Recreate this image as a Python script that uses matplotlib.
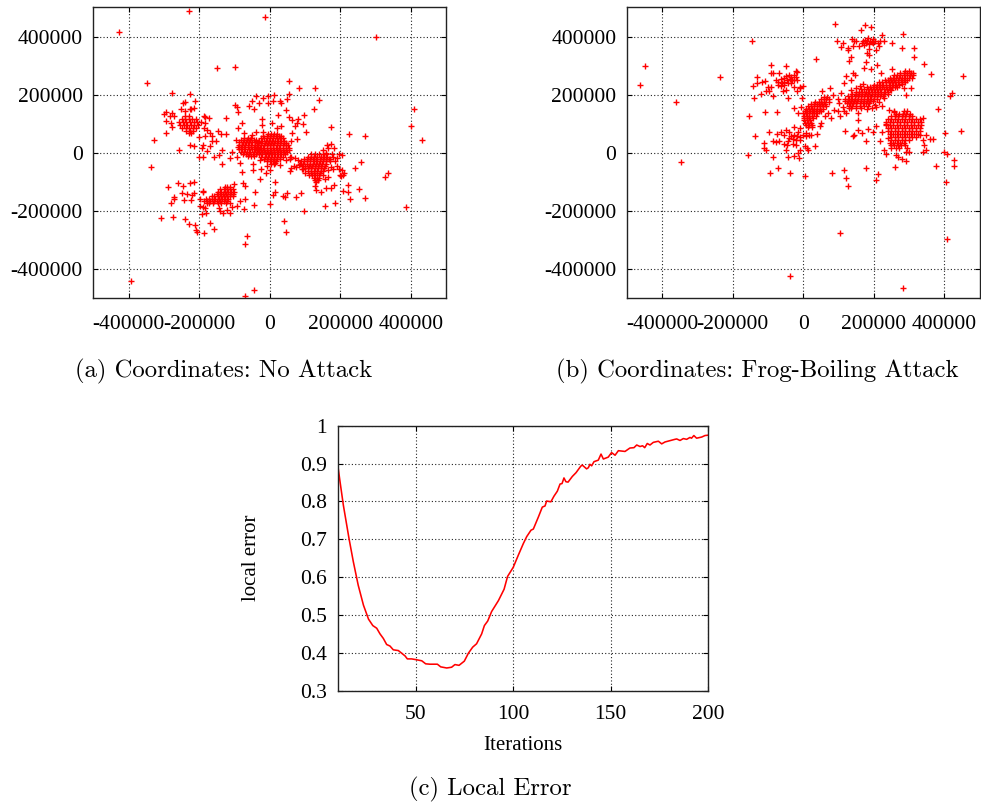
import matplotlib
matplotlib.use("Agg")
import matplotlib.pyplot as plt

W, H = 981, 805
plt.rcParams['font.family'] = ['Liberation Serif', 'DejaVu Serif']
plt.rcParams['axes.unicode_minus'] = False

# All scatter values are in thousands.
SCALE = 1000
coord_ticks = [-400000, -200000, 0, 200000, 400000]
coord_labels = ['-400000', '-200000', '0', '200000', '400000']
iter_ticks = [50, 100, 150, 200]
iter_labels = ['50', '100', '150', '200']
err_ticks = [0.3, 0.4, 0.5, 0.6, 0.7, 0.8, 0.9, 1.0]
err_labels = ['0.3', '0.4', '0.5', '0.6', '0.7', '0.8', '0.9', '1']

# Panel (a): saturated blobs as rows (y, [x...])
a_core = [(66,[-6,3,12,21]),(58,[-18,-9,0,9,18,27,33]),(50,[-26,-17,-8,1,10,19,28,37]),
 (42,[-30,-21,-12,-3,6,15,24,33,41]),(34,[-33,-24,-15,-6,3,12,21,30,39,46]),
 (26,[-35,-26,-17,-8,1,10,19,28,37,46,52]),(18,[-36,-27,-18,-9,0,9,18,27,36,45,53]),
 (10,[-34,-25,-16,-7,2,11,20,29,38,47,54]),(2,[-32,-23,-14,-5,4,13,22,31,40,49]),
 (-6,[-30,-21,-12,-3,6,15,24,33,42]),(-14,[-24,-15,-6,3,12,21,30,38]),
 (-22,[-16,-7,2,11,20,28]),(-30,[-8,1,10,18]),(-38,[3,12])]
a_core2 = [(52,[-72,-63,-52]),(44,[-82,-73,-64,-55,-46,-38]),(36,[-86,-77,-68,-59,-50,-41,-33]),
 (28,[-88,-79,-70,-61,-52,-43,-34]),(20,[-90,-81,-72,-63,-54,-45,-36]),(12,[-87,-78,-69,-60,-51,-42,-33]),
 (4,[-82,-73,-64,-55,-46,-37]),(-4,[-76,-67,-58,-49,-40]),(-12,[-62,-53,-44])]
a_right = [(-6,[118,128,140,150,158]),(-14,[108,117,126,135,144,153,162]),
 (-22,[96,105,114,123,132,141,150,159,168]),(-30,[88,97,106,115,124,133,142,151,160,170]),
 (-38,[86,95,104,113,122,131,140,149,158]),(-46,[92,101,110,119,128,137,146,155]),
 (-54,[100,109,118,127,136,145,154]),(-62,[108,117,126,135,144,152]),(-70,[116,125,134,143]),
 (-78,[120,129,138]),(-86,[124,133,140]),(-94,[128,136])]
a_lower = [(-118,[-128,-120,-112]),(-126,[-140,-131,-122,-113,-104]),(-134,[-146,-137,-128,-119,-110,-102]),
 (-142,[-150,-141,-132,-123,-114,-105]),(-150,[-165,-157,-148,-139,-130,-121,-112]),
 (-158,[-180,-172,-163,-154,-145,-136,-127,-118]),(-166,[-186,-177,-168,-159,-150,-141,-130,-120]),
 (-174,[-172,-160,-148,-138,-125,-112])]
a_upper = [(125,[-240,-228]),(115,[-250,-240,-230,-220,-208]),(105,[-256,-246,-236,-226,-216,-206,-196]),
 (95,[-254,-244,-234,-224,-214,-204]),(85,[-248,-238,-228,-218,-210]),(75,[-236,-226,-218]),(68,[-228,-222])]

# Panel (a): individually read points
a_outliers = [(-426,416),(-228,488),(-13,468),(300,399),(-149,293),(-98,296),(-348,240),(-276,207),(-225,203),
 (55,248),(84,222),(127,223),(139,182),(125,149),(97,131),(173,87),(225,66),(269,58),(408,152),(401,91),(431,44),
 (-327,45),(-337,-48),(-256,8),(-392,-440),(-71,-492),(-45,-474),(387,-187),(325,-83),(335,-71),(259,-31),(241,-54),
 (-65,-286),(-69,-313),(39,-235),(46,-272),(96,-202),(156,-185),(186,-174),(1,-178),(270,-157),(226,-159),(252,-124),
 (222,-110),(221,-136),(208,-131),(172,-121),(183,-112),(201,-81),(207,-78),(204,-7),(196,-3),(181,16),(172,30),(161,27),
 (-309,-225),(-274,-220),(-240,-229),(-230,-245),(-212,-249),(-209,-265),(-206,-272),(-187,-277),(-158,-262),(-168,-241)]
a_right_halo = [(80,-25),(83,-42),(92,-55),(100,-70),(110,-75),(150,-75),(165,-60),(172,-50),(180,-55),(190,-45),
 (195,-55),(170,-20),(178,-15),(185,-28),(160,-2),(175,-5),(150,8),(165,15),(190,-18),(205,-60),(210,-70),(200,-75),
 (130,-102),(128,-115),(130,-128),(145,-135),(160,-120),(95,-55),(155,-90),(165,-85),(75,-50),(70,-18),(57,-20),(60,-52)]
a_lower_halo = [(-288,-118),(-260,-104),(-246,-116),(-225,-105),(-216,-102),(-250,-140),(-235,-142),(-271,-152),(-271,-158),
 (-279,-173),(-243,-163),(-224,-163),(-220,-144),(-214,-139),(-198,-184),(-189,-187),(-184,-190),(-191,-210),(-182,-207),
 (-143,-189),(-141,-202),(-132,-207),(-121,-198),(-113,-207),(-108,-187),(-94,-184),(-102,-107),(-75,-105),(-70,-113),
 (-41,-135),(-71,-158),(-84,-167),(-74,-194),(-45,-181),(16,-102),(15,-136),(8,-147),(36,-150),(42,-154),(50,-140),(73,-154),
 (89,-138),(-29,-91),(-189,-133),(-177,-173),(-104,-150),(-198,-159),(-189,-136)]
a_upper_halo = [(-278,136),(-300,134),(-293,140),(-283,125),(-271,128),(-294,108),(-280,102),(-276,88),(-293,68),(-245,171),
 (-239,174),(-212,179),(-252,151),(-241,142),(-226,151),(-214,154),(-222,152),(-187,127),(-184,123),(-172,121),(-184,104),
 (-186,86),(-179,77),(-146,74),(-139,65),(-125,64),(-170,68),(-163,58),(-184,56),(-200,55),(-151,40),(-165,39),(-189,26),
 (-191,16),(-170,22),(-179,5),(-226,25),(-214,24),(-200,-13),(-189,-16),(-158,-14),(-135,10),(-143,-7),(-135,-39),(-113,-18),
 (-108,3),(-124,120)]
a_core_halo = [(-39,197),(-50,179),(-58,162),(-44,151),(-32,171),(-19,187),(-4,194),(13,199),(55,202),(49,185),(9,178),(-5,171),
 (28,179),(33,171),(47,146),(22,131),(54,123),(63,113),(79,116),(94,100),(71,91),(77,104),(102,70),(62,68),(77,49),(61,39),
 (33,91),(19,85),(5,102),(-22,116),(-22,96),(-78,101),(-90,85),(-98,163),(-92,158),(-89,140),(-74,68),(-95,45),(-50,62),
 (-38,73),(-19,70),(-94,-13),(-85,-36),(-80,-66),(-49,-38),(-49,-61),(-24,-56),(-12,-70),(0,-58),(14,-36),(57,-16),(61,-15),
 (69,-47),(58,-64),(47,-24),(-9,-47),(-28,-24),(28,-41)]

# Panel (b): saturated blobs as rows (y, [x...])
b_band = [(282,[290,300]),(274,[275,285,295,305,312]),(266,[258,267,276,285,294,303,312]),
 (258,[245,254,263,272,281,290,299,308]),(250,[232,241,250,259,268,277,286,295]),
 (242,[216,225,234,243,252,261,270,279,288]),(234,[200,209,218,227,236,245,254,263,272]),
 (226,[180,189,198,207,216,225,234,243,252,261]),(218,[165,174,183,192,201,210,219,228,237,246]),
 (210,[150,159,168,177,186,195,204,213,222,231,240]),(202,[140,149,158,167,176,185,194,203,212,221,230]),
 (194,[128,137,146,155,164,173,182,191,200,209,218,226]),(186,[120,129,138,147,156,165,174,183,192,201,210]),
 (178,[118,127,136,145,154,163,172,181,190,199]),(170,[124,133,142,151,160,169,178,187]),
 (162,[130,140,150,162,172,185]),(154,[135,150,165])]
b_blob = [(145,[285,295]),(135,[262,272,282,292,302]),(125,[250,260,270,280,290,300,310]),
 (115,[240,250,260,270,280,290,300,310,320,330]),(105,[235,245,255,265,275,285,295,305,315,325,335]),
 (95,[235,245,255,265,275,285,295,305,315,325,335]),(85,[240,250,260,270,280,290,300,310,320,330]),
 (75,[240,250,260,270,280,290,300,310,320,330]),(65,[245,255,265,275,285,295,305,315,325]),
 (55,[250,260,270,280,290,300,310,320]),(45,[250,260,270,280,290,300]),(35,[245,255,265,275,285]),
 (25,[248,258,268,278,290]),(15,[250,262,272,295])]
b_mid = [(192,[60,68]),(184,[50,58,66,74]),(176,[35,44,52,60,72]),(168,[22,30,38,46,54,62]),
 (160,[15,23,31,39,47,55,65]),(152,[8,16,24,32,40,48,56]),(144,[4,12,20,28,36,44,52]),(136,[0,8,16,24,32,40]),
 (128,[2,10,18,26,36]),(120,[2,10,18,28]),(112,[2,10,20]),(104,[5,13,22]),(96,[8,16,26]),(88,[15,25])]

# Panel (b): individually read points
b_outliers = [(-449,297),(-463,233),(-359,176),(-345,-32),(-235,262),(-145,384),(-152,125),(-136,58),(-157,-9),(106,-277),
 (-37,-424),(284,-465),(409,-296),(90,442),(282,409),(452,264),(423,205),(417,197),(383,149),(447,74),(403,68),(400,1),(407,-5),
 (427,-25),(427,-44),(378,-45),(404,-101),(362,270),(343,305),(313,359),(279,359),(315,331),(-95,-68),(-72,-54),(-38,-69),(4,-81),
 (81,-71),(117,-61),(121,-88),(128,-113),(178,-54),(213,-74),(206,-94),(260,-49),(293,-29),(37,322)]
b_top = [(175,440),(192,434),(163,423),(223,406),(97,385),(112,379),(107,363),(126,360),(128,352),(139,393),(143,383),(141,366),
 (158,366),(166,379),(175,388),(183,394),(191,386),(197,391),(178,377),(188,375),(199,379),(186,356),(181,345),(188,337),(208,354),
 (216,366),(219,383),(228,383),(251,379),(211,379),(174,371),(150,383),(136,329),(131,317),(177,312),(192,288),(174,291),(209,301),
 (221,276),(251,288),(180,383),(170,384),(194,380),(205,385)]
b_band_halo = [(117,240),(122,265),(141,274),(147,268),(136,251),(108,205),(103,171),(112,159),(131,154),(117,142),(155,136),
 (155,113),(207,159),(225,162),(244,148),(258,142),(292,199),(306,222),(287,222),(120,74),(143,62),(155,79),(167,68),(185,81),
 (199,73),(207,93),(177,41),(141,56),(170,238),(160,230),(150,222),(135,215),(180,150),(195,155),(205,165),(215,175),(228,190),
 (240,202),(250,215),(265,225),(280,238)]
b_blob_halo = [(236,-6),(230,8),(263,-8),(270,-13),(279,-21),(291,3),(301,1),(339,3),(348,8),(343,27),(339,45),(348,62),(360,47),
 (367,47),(332,62),(339,118),(219,39),(240,50),(225,73),(235,100),(258,141)]
b_mid_halo = [(53,211),(77,222),(86,199),(98,185),(87,148),(98,142),(79,119),(106,125),(122,136),(70,136),(62,125),(49,91),(39,64),
 (23,62),(51,102),(0,230),(-8,226),(-25,154),(-15,136),(-4,188),(-6,159),(8,68)]
b_left_low = [(-98,73),(-75,64),(-62,73),(-48,79),(-55,60),(-39,73),(-25,88),(-10,85),(-34,56),(-25,62),(-17,56),(-8,54),(-29,47),
 (-20,45),(-10,45),(-15,73),(-1,62),(8,58),(18,62),(-86,40),(-76,38),(-67,42),(-111,33),(-111,16),(-105,10),(-43,39),(-45,25),
 (-49,10),(-39,50),(-20,28),(4,22),(11,16),(15,8),(34,23),(-8,10),(-86,-14),(-43,-16),(-27,-10),(-15,-1),(-12,-19),(-53,31),(-29,31)]
b_left_up = [(-92,303),(-92,276),(-48,298),(-20,283),(-18,278),(-67,276),(-86,274),(-131,260),(-131,240),(-142,230),(-117,243),
 (-108,248),(-119,202),(-140,188),(-109,140),(-75,141),(-86,194),(-43,188),(-98,211),(-105,214),(-100,226),(-92,226),(-58,214),
 (-48,217),(-17,214),(-25,225),(-8,222),(-76,251),(-70,245),(-62,253),(-55,259),(-48,265),(-41,268),(-34,262),(-26,268),(-20,262),
 (-17,251),(-25,251),(-32,251),(-38,254),(-46,251),(-53,245),(-60,239),(-70,233),(-43,239),(-34,239),(-53,233),(-62,230)]

# Panel (c)
iterations = [10,11.2,12.9,15.8,18,20.5,23.2,25.8,28,30,31.7,33.4,35.1,36.8,38.5,41.1,42.8,44.5,45.7,47.9,50.2,
 53.1,55.1,57.3,61.1,62.8,65.9,68.4,70.1,72.2,74.9,77,79.2,81.2,83.8,85.2,86.9,88.9,92.4,95.3,97.1,100,102.6,105.2,106.9,109.1,
 110.3,112.9,114.9,116.3,117.1,119.3,120.9,122.6,124,125,126,127,128.1,130.3,132.2,134.6,135.4,137.6,138.5,139.3,140.2,141.4,
 143.6,145,146.2,148.7,150.4,152.2,153.9,157.3,159.8,161.9,163.3,165,166.3,167.4,168.7,170.1,171.8,174.4,176.1,177.8,182.9,183.8,
 185.5,187.2,188.9,190.6,191.4,192.6,194,196.6,198.3,200]
local_error = [.897,.852,.790,.702,.641,.579,.526,.489,.472,.465,.45,.438,.422,.418,.408,.406,.399,.392,.384,.384,.382,
 .379,.371,.37,.37,.363,.36,.362,.369,.367,.378,.399,.415,.424,.45,.472,.484,.509,.538,.568,.602,.626,.658,.689,.707,.724,
 .727,.759,.785,.788,.801,.799,.814,.827,.846,.847,.862,.852,.851,.866,.876,.893,.896,.886,.889,.898,.894,.905,
 .909,.925,.912,.917,.929,.922,.934,.932,.941,.942,.949,.945,.947,.942,.953,.949,.956,.959,.952,.957,.964,.965,
 .961,.966,.964,.969,.967,.974,.967,.97,.974,.975]


def px_axes(left, right, top, bottom):
    return plt.gcf().add_axes([left / W, 1 - bottom / H, (right - left) / W, (bottom - top) / H])


def style(ax):
    ax.grid(True, color='#222222', linestyle=(0, (1, 2)), linewidth=0.8)
    ax.set_axisbelow(True)
    ax.tick_params(direction='in', top=True, right=True, length=3.5, width=0.8,
                   labelsize=15.5, color='black')
    ax.tick_params(axis='x', pad=12)
    ax.tick_params(axis='y', pad=7.5)
    for s in ax.spines.values():
        s.set_linewidth(1.0)
        s.set_color('#222222')


def scatter_panel(ax, rows, pairs):
    xs, ys = [], []
    for group in rows:
        for y, row in group:
            xs += [x * SCALE for x in row]
            ys += [y * SCALE] * len(row)
    for group in pairs:
        xs += [p[0] * SCALE for p in group]
        ys += [p[1] * SCALE for p in group]
    line, = ax.plot(xs, ys, linestyle='none', marker='+', color='#ff0000', markersize=4.6, markeredgewidth=1.0)
    line.set_snap(False)
    ax.set_xlim(-500000, 500000)
    ax.set_ylim(-500000, 500000)
    ax.set_xticks(coord_ticks, coord_labels)
    ax.set_yticks(coord_ticks, coord_labels)
    style(ax)


fig = plt.figure(figsize=(W / 100, H / 100), dpi=100)

ax_a = px_axes(93.3, 446.3, 7.5, 298)
scatter_panel(ax_a, [a_core, a_core2, a_right, a_lower, a_upper],
              [a_outliers, a_right_halo, a_lower_halo, a_upper_halo, a_core_halo])

ax_b = px_axes(626.7, 979.5, 7.5, 298)
scatter_panel(ax_b, [b_band, b_blob, b_mid],
              [b_outliers, b_top, b_band_halo, b_blob_halo, b_mid_halo, b_left_low, b_left_up])

ax_c = px_axes(337.7, 708.3, 425.7, 690.7)
ax_c.plot(iterations, local_error, color='#ff0000', linewidth=1.15)
ax_c.set_xlim(10, 200)
ax_c.set_ylim(0.3, 1.0)
ax_c.set_xticks(iter_ticks, iter_labels)
ax_c.set_yticks(err_ticks, err_labels)
style(ax_c)
ax_c.tick_params(axis='x', pad=10)

fig.text(523 / W, 1 - 745 / H, 'Iterations', ha='center', va='center', fontsize=15)
fig.text(251 / W, 1 - 558 / H, 'local error', ha='center', va='center', rotation=90, fontsize=15)

cap = dict(ha='center', va='center', family='cmr10', fontsize=17.8)
fig.text(223.5 / W, 1 - 371 / H, '(a) Coordinates: No Attack', **cap)
fig.text(757 / W, 1 - 371 / H, '(b) Coordinates: Frog-Boiling Attack', **cap)
fig.text(490 / W, 1 - 789 / H, '(c) Local Error', **cap)

fig.savefig('out.png', dpi=100)
